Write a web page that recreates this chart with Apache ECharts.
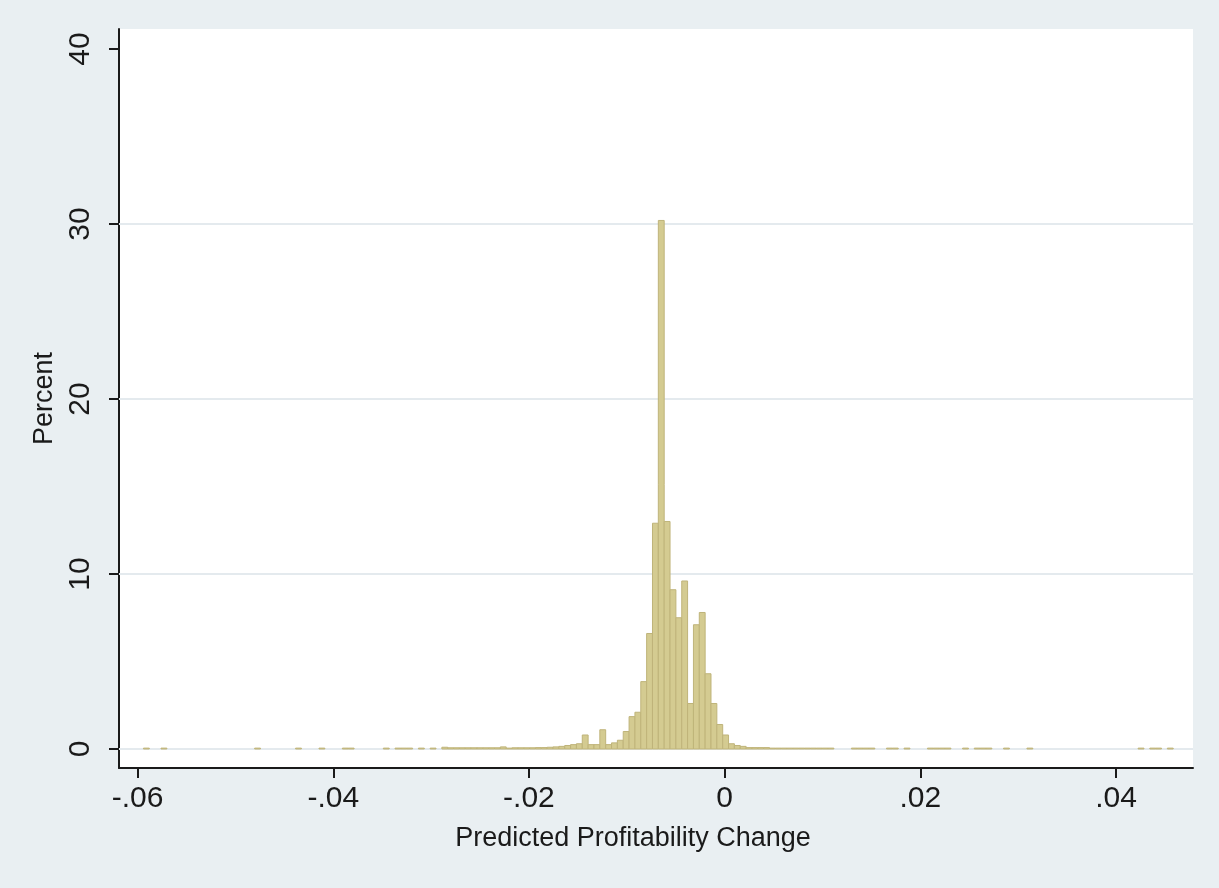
<!DOCTYPE html>
<html>
<head>
<meta charset="utf-8">
<title>Predicted Profitability Change</title>
<script src="https://cdn.jsdelivr.net/npm/echarts@6/dist/echarts.min.js"></script>
<style>
  html, body { margin: 0; padding: 0; background: #e9eff2; }
  #chart { width: 1219px; height: 888px; }
</style>
</head>
<body>
<div id="chart"></div>
<script>
// Histogram bins: left edge of the first bin and common bin width
const binStart = -0.0594;
const binWidth = 0.000598;

// Percent of observations in each consecutive bin (176 bins)
const percent = [
  0.05, 0, 0, 0.05, 0, 0, 0, 0, 0, 0,            // 0-9
  0, 0, 0, 0, 0, 0, 0, 0, 0, 0.05,               // 10-19
  0, 0, 0, 0, 0, 0, 0.05, 0, 0, 0,               // 20-29
  0.05, 0, 0, 0, 0.05, 0.05, 0, 0, 0, 0,         // 30-39
  0, 0.05, 0, 0.05, 0.05, 0.05, 0, 0.05, 0, 0.05, // 40-49
  0, 0.1, 0.07, 0.07, 0.07, 0.07, 0.07, 0.07, 0.07, 0.07, // 50-59
  0.07, 0.12, 0.05, 0.07, 0.07, 0.07, 0.07, 0.08, 0.08, 0.1, // 60-69
  0.12, 0.15, 0.2, 0.25, 0.3, 0.8, 0.25, 0.25, 1.1, 0.25,    // 70-79
  0.35, 0.5, 1.0, 1.85, 2.1, 3.85, 6.6, 12.9, 30.2, 13.0,    // 80-89
  9.1, 7.5, 9.6, 2.6, 7.1, 7.8, 4.3, 2.6, 1.4, 0.8,          // 90-99
  0.3, 0.2, 0.15, 0.08, 0.08, 0.08, 0.08, 0.05, 0.05, 0.05,  // 100-109
  0.05, 0.05, 0.05, 0.05, 0.05, 0.05, 0.05, 0.05, 0, 0,      // 110-119
  0, 0.05, 0.05, 0.05, 0.05, 0, 0, 0.05, 0.05, 0,            // 120-129
  0.05, 0, 0, 0, 0.05, 0.05, 0.05, 0.05, 0, 0,               // 130-139
  0.05, 0, 0.05, 0.05, 0.05, 0, 0, 0.05, 0, 0,               // 140-149
  0, 0.05, 0, 0, 0, 0, 0, 0, 0, 0,                           // 150-159
  0, 0, 0, 0, 0, 0, 0, 0, 0, 0,                              // 160-169
  0.05, 0, 0.05, 0.05, 0, 0.05                               // 170-175
];

// Axis ticks and their labels
const xTicks = [-0.06, -0.04, -0.02, 0, 0.02, 0.04];
const xTickLabels = ['-.06', '-.04', '-.02', '0', '.02', '.04'];
const yTicks = [0, 10, 20, 30, 40];
const yGridLines = [0, 10, 20, 30];

const xTitle = 'Predicted Profitability Change';
const yTitle = 'Percent';

// Visible axis range
const xMin = -0.0619, xMax = 0.04787;
const yMin = -1.086, yMax = 41.14;

// Bars as [left edge, right edge, percent]
const bars = [];
percent.forEach((p, i) => {
  if (p > 0) {
    const x0 = binStart + i * binWidth;
    bars.push([x0, x0 + binWidth, p]);
  }
});

const FONT = '"Liberation Sans", Arial, sans-serif';
const INK = '#1a1a1a';

const chart = echarts.init(document.getElementById('chart'), null, { renderer: 'canvas' });

chart.setOption({
  animation: false,
  backgroundColor: '#e9eff2',
  grid: {
    left: 119, right: 26, top: 29, bottom: 120,
    show: true, backgroundColor: '#ffffff', borderWidth: 0
  },
  xAxis: {
    type: 'value',
    min: xMin, max: xMax,
    name: xTitle,
    nameLocation: 'middle',
    nameGap: 57,
    nameTextStyle: { fontFamily: FONT, fontSize: 27, color: INK, padding: [0, 46, 0, 0] },
    axisLine: { show: true, onZero: false, lineStyle: { color: INK, width: 2 } },
    axisTick: { show: true, length: 10, lineStyle: { color: INK, width: 2 }, customValues: xTicks },
    axisLabel: {
      show: true, margin: 16, fontFamily: FONT, fontSize: 30, color: INK,
      customValues: xTicks,
      formatter: v => {
        const i = xTicks.findIndex(t => Math.abs(t - v) < 1e-9);
        return i >= 0 ? xTickLabels[i] : '';
      }
    },
    splitLine: { show: false }
  },
  yAxis: {
    type: 'value',
    min: yMin, max: yMax,
    name: yTitle,
    nameLocation: 'middle',
    nameGap: 57,
    nameTextStyle: { fontFamily: FONT, fontSize: 27, color: INK },
    axisLine: { show: true, onZero: false, lineStyle: { color: INK, width: 2 } },
    axisTick: { show: true, length: 10, lineStyle: { color: INK, width: 2 }, customValues: yTicks },
    axisLabel: {
      show: true, rotate: 90, margin: 23, fontFamily: FONT, fontSize: 30, color: INK,
      customValues: yTicks,
      formatter: v => String(Math.round(v))
    },
    splitLine: { show: false }
  },
  series: [
    {
      // horizontal grid lines at the labelled percent ticks
      type: 'custom',
      z: 1,
      silent: true,
      data: yGridLines.map(v => [v]),
      renderItem: (params, api) => {
        const a = api.coord([xMin, api.value(0)]);
        const b = api.coord([xMax, api.value(0)]);
        return {
          type: 'line',
          shape: { x1: a[0], y1: a[1], x2: b[0], y2: b[1] },
          style: { stroke: '#e4eaee', lineWidth: 2 }
        };
      }
    },
    {
      // histogram bars
      type: 'custom',
      z: 2,
      silent: true,
      data: bars,
      encode: { x: [0, 1], y: 2 },
      renderItem: (params, api) => {
        const base = api.coord([api.value(0), 0]);
        const top = api.coord([api.value(1), api.value(2)]);
        return {
          type: 'rect',
          shape: { x: base[0], y: top[1], width: top[0] - base[0], height: base[1] - top[1] },
          style: { fill: '#d4cb91', stroke: '#bfb47a', lineWidth: 1 }
        };
      }
    }
  ]
});
</script>
</body>
</html>
